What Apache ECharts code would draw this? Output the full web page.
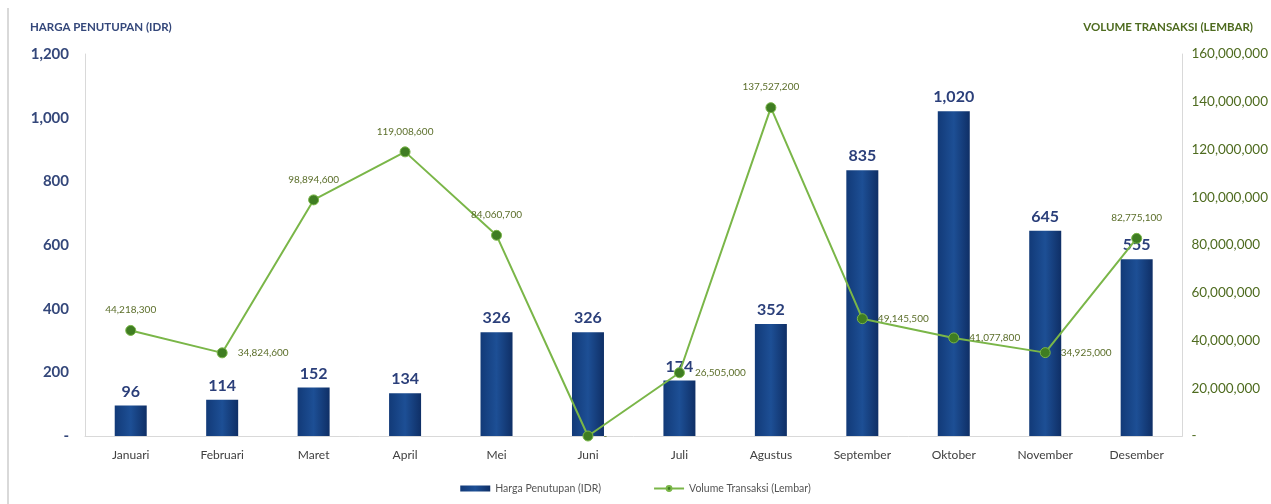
<!DOCTYPE html>
<html>
<head>
<meta charset="utf-8">
<script src="https://cdn.jsdelivr.net/npm/echarts@6/dist/echarts.min.js"></script>
<style>
html,body{margin:0;padding:0;background:#fff;}
#c{width:1271px;height:504px;}
</style>
</head>
<body>
<div id="c"></div>
<script>
var categories = ['Januari','Februari','Maret','April','Mei','Juni','Juli','Agustus','September','Oktober','November','Desember'];
var hargaPenutupan = [96,114,152,134,326,326,174,352,835,1020,645,555];
var volumeTransaksi = [44218300,34824600,98894600,119008600,84060700,0,26505000,137527200,49145500,41077800,34925000,82775100];
var volumeLabelPos = ['top','right','top','top','top','right','right','top','right','right','right','top'];
var leftTicks = {min:0,max:1200,interval:200};
var rightTicks = {min:0,max:160000000,interval:20000000};

function fmt(v){ return v===0 ? '-' : v.toLocaleString('en-US'); }

var FONT = 'Lato, "Open Sans", sans-serif';
var chart = echarts.init(document.getElementById('c'));
chart.setOption({
  backgroundColor:'#ffffff',
  animation:false,
  textStyle:{fontFamily:FONT},
  graphic:[
    {type:'line',shape:{x1:8,y1:8,x2:8,y2:504},style:{stroke:'#d9d9d9',lineWidth:2}},
    {type:'text',left:30,top:21,style:{text:'HARGA PENUTUPAN (IDR)',fill:'#34477a',font:'bold 11.5px '+FONT}},
    {type:'text',right:18,top:21,style:{text:'VOLUME TRANSAKSI (LEMBAR)',fill:'#4e6b1f',font:'bold 11.5px '+FONT}}
  ],
  grid:{left:85,right:87,top:54,bottom:68},
  legend:{
    bottom:5,left:'center',itemGap:52,itemWidth:30,itemHeight:6,
    textStyle:{color:'#555',fontSize:10.5,fontFamily:FONT},
    data:[{name:'Harga Penutupan (IDR)',icon:'rect'},{name:'Volume Transaksi (Lembar)'}]
  },
  xAxis:{
    type:'category',data:categories,
    axisLine:{lineStyle:{color:'#d9d9d9'}},
    axisTick:{show:false},
    axisLabel:{color:'#404040',fontSize:12,margin:13,fontFamily:FONT}
  },
  yAxis:[
    {type:'value',min:leftTicks.min,max:leftTicks.max,interval:leftTicks.interval,
     axisLine:{show:true,lineStyle:{color:'#d9d9d9'}},axisTick:{show:false},
     splitLine:{show:false},
     axisLabel:{color:'#34477a',fontSize:15,fontWeight:'bold',margin:16,formatter:fmt}},
    {type:'value',min:rightTicks.min,max:rightTicks.max,interval:rightTicks.interval,
     axisLine:{show:true,lineStyle:{color:'#d9d9d9'}},axisTick:{show:false},
     splitLine:{show:false},
     axisLabel:{color:'#4e6b1f',fontSize:13.5,margin:9,formatter:fmt}}
  ],
  series:[
    {name:'Harga Penutupan (IDR)',type:'bar',data:hargaPenutupan,barWidth:32,
     itemStyle:{color:new echarts.graphic.LinearGradient(0,0,1,0,[
       {offset:0,color:'#123a78'},{offset:0.5,color:'#1d4f95'},{offset:1,color:'#0f2f66'}])},
     label:{show:true,position:'top',distance:6,color:'#2b3f7a',fontSize:16,fontWeight:'bold',fontFamily:FONT,
       formatter:function(p){return fmt(p.value);}}},
    {name:'Volume Transaksi (Lembar)',type:'line',yAxisIndex:1,
     data:volumeTransaksi.map(function(v,i){return {value:v,label:{position:volumeLabelPos[i]}};}),
     lineStyle:{color:'#7ab648',width:2},
     itemStyle:{color:'#3f7d22',borderColor:'#7ab648',borderWidth:1},
     symbol:'circle',symbolSize:10,
     label:{show:true,color:'#5b6e2a',fontSize:10,distance:10,fontFamily:FONT,formatter:function(p){return fmt(p.value);}}}
  ]
});
</script>
</body>
</html>
